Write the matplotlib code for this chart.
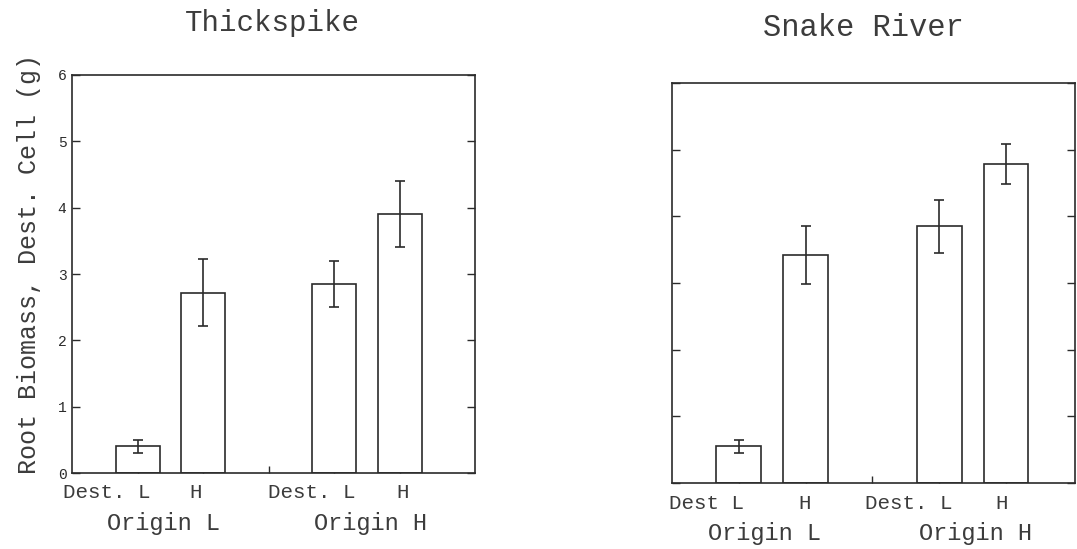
#!/usr/bin/env python3

import numpy as np
import matplotlib
matplotlib.use("Agg")
import matplotlib.pyplot as plt

# root biomass in destination cell (g)
positions = [1, 2, 4, 5]
thick_means = [0.40, 2.72, 2.85, 3.90]
thick_err = [0.10, 0.50, 0.35, 0.50]
snake_means = [0.55, 3.42, 3.85, 4.78]
snake_err = [0.10, 0.44, 0.40, 0.30]

titles = ['Thickspike', 'Snake River']
dest_labels_left = ['Dest. L', 'H', 'Dest. L', 'H']
dest_labels_right = ['Dest L', 'H', 'Dest. L', 'H']
origin_labels = ['Origin L', 'Origin H']
ylabel = 'Root Biomass, Dest. Cell (g)'

ink = '#2b2b2b'
txt = '#3c3c3c'
font = 'Liberation Mono'

plt.rcParams['font.family'] = [font, 'DejaVu Sans Mono']

fig = plt.figure(figsize=(10.77, 5.49), dpi=100)
ax1 = fig.add_axes([0.0669, 0.1384, 0.3743, 0.7250])
ax2 = fig.add_axes([0.6240, 0.1202, 0.3740, 0.7286])


def panel(ax, means, err, xmax, show_yticklabels):
    ax.bar(positions, means, width=0.67, facecolor='white', edgecolor=ink,
           linewidth=1.2, zorder=2)
    ax.errorbar(positions, means, yerr=err, fmt='none', ecolor=ink,
                elinewidth=1.2, capsize=3.5, capthick=1.2, zorder=3)
    ax.set_xlim(0, xmax)
    ax.set_ylim(0, 6)
    ax.set_xticks([1, 2, 3, 4, 5])
    ax.set_xticklabels([])
    ax.set_yticks(np.arange(0, 7))
    ax.tick_params(axis='x', direction='in', length=5, width=1.0, colors=ink)
    ax.tick_params(axis='y', direction='in', length=6, width=1.0, colors=ink,
                   right=True, labelsize=10.5, pad=4)
    if not show_yticklabels:
        ax.set_yticklabels([])
    for s in ax.spines.values():
        s.set_color(ink)
        s.set_linewidth(1.2)


panel(ax1, thick_means, thick_err, 6.15, True)
panel(ax2, snake_means, snake_err, 6.03, False)

# hand-placed category labels under the bars
tr1 = ax1.get_xaxis_transform()
for x, lab in zip([0.53, 1.89, 3.65, 5.04], dest_labels_left):
    ax1.text(x, -0.05, lab, transform=tr1, ha='center', va='center',
             fontsize=15, color=txt)
for x, lab in zip([1.39, 4.55], origin_labels):
    ax1.text(x, -0.126, lab, transform=tr1, ha='center', va='center',
             fontsize=17, color=txt)

tr2 = ax2.get_xaxis_transform()
for x, lab in zip([0.51, 1.99, 3.55, 4.93], dest_labels_right):
    ax2.text(x, -0.05, lab, transform=tr2, ha='center', va='center',
             fontsize=15, color=txt)
for x, lab in zip([1.39, 4.55], origin_labels):
    ax2.text(x, -0.125, lab, transform=tr2, ha='center', va='center',
             fontsize=17, color=txt)

fig.text(272 / 1077, 0.958, titles[0], ha='center', va='center',
         fontsize=21, color=txt)
fig.text(863 / 1077, 0.949, titles[1], ha='center', va='center',
         fontsize=22, color=txt)
fig.text(29 / 1077, 0.52, ylabel, rotation=90, ha='center', va='center',
         fontsize=18, color=txt)

fig.savefig('out.png', dpi=100, facecolor='white')
